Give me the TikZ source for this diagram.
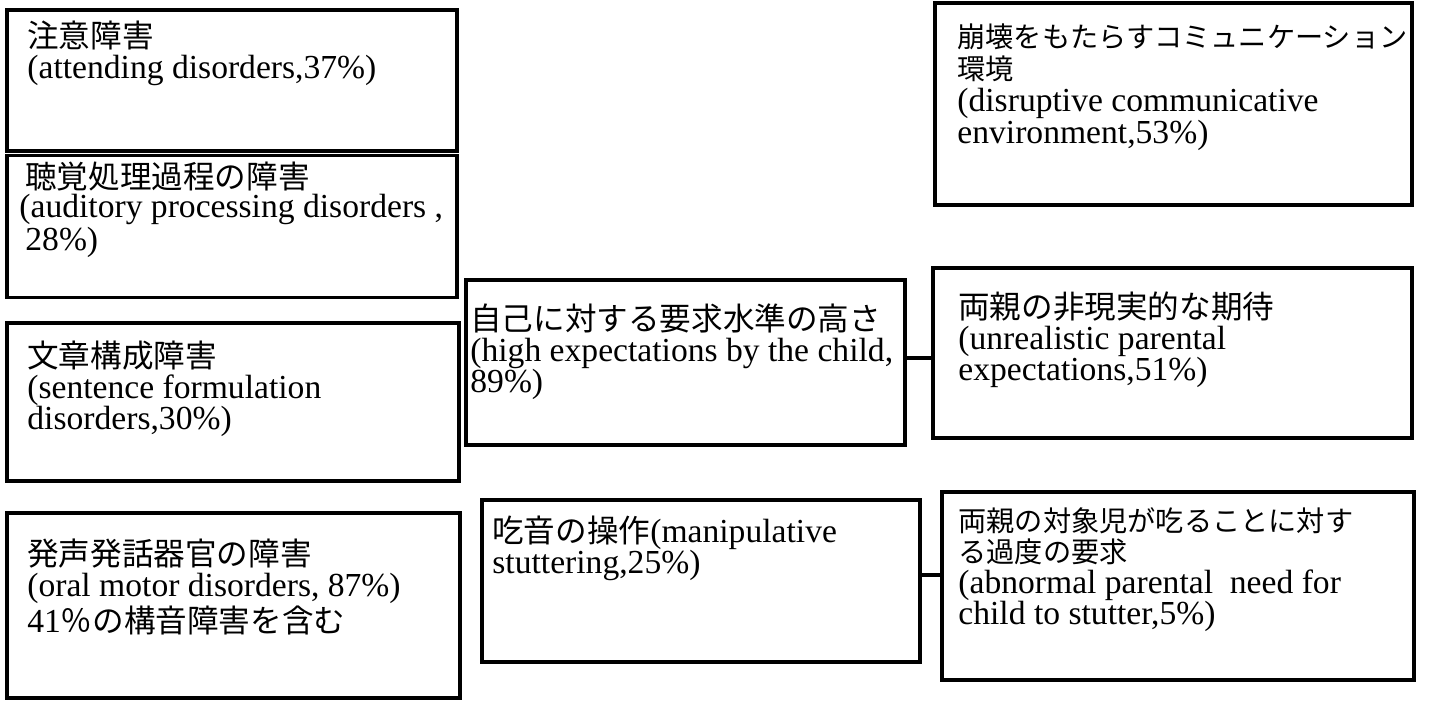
\documentclass[tikz,border=0pt]{standalone}
\usepackage{fontspec}
\setmainfont{Liberation Serif}
\newfontfamily\jp{Noto Sans CJK JP}[Scale=0.94]
\newcommand\jps{\jp\fontsize{15}{15.5}\selectfont}
\newcommand\jpt{\jp\fontsize{15}{16}\selectfont}
\newcommand\boxfont{\fontsize{16.8}{15.5}\selectfont}
\begin{document}
\begin{tikzpicture}[x=0.5pt,y=-0.5pt,
  box/.style={draw, line width=1.6pt, anchor=north west, inner sep=0pt, outer sep=0pt},
  txt/.style={anchor=north west, inner sep=0pt, align=left, font=\boxfont},
  conn/.style={line width=2.4pt}]
\fill[white] (0,0) rectangle (1445,701);
\useasboundingbox (0,0) rectangle (1445,701);
% boxes
\node[box, minimum width=225pt, minimum height=70.5pt] (b1) at (7,10) {};
\node[box, minimum width=225pt, minimum height=71pt] (b2) at (7,155.5) {};
\node[box, minimum width=226pt, minimum height=79pt] (b3) at (7,323) {};
\node[box, minimum width=226.5pt, minimum height=92.5pt] (b4) at (7,513) {};
\node[box, minimum width=219.5pt, minimum height=82.5pt] (b5) at (466,280) {};
\node[box, minimum width=219pt, minimum height=81pt] (b6) at (482,500) {};
\node[box, minimum width=238.5pt, minimum height=101pt] (b7) at (935,3) {};
\node[box, minimum width=239.5pt, minimum height=85pt] (b8) at (933,268) {};
\node[box, minimum width=236pt, minimum height=94pt] (b9) at (942,492) {};
% texts
\node[txt] (t1) at (27,21) {{\jp 注意障害}\\(attending disorders,37\%)};
\node[txt, font={\fontsize{16.8}{14.5}\selectfont}] (t2) at (19,162) {\hspace{3pt}{\jp 聴覚処理過程の障害}\\(auditory processing disorders ,\\\hspace{3pt}28\%)};
\node[txt] (t3) at (27,341) {{\jp 文章構成障害}\\(sentence formulation\\disorders,30\%)};
\node[txt] (t4) at (27,539) {{\jp 発声発話器官の障害}\\(oral motor disorders, 87\%)\\41{\jp ％の構音障害を含む}};
\node[txt] (t5) at (470,303) {{\jp 自己に対する要求水準の高さ}\\(high expectations by the child,\\89\%)};
\node[txt] (t6) at (492,516) {{\jp 吃音の操作}(manipulative\\stuttering,25\%)};
\node[txt, font={\fontsize{16.8}{16}\selectfont}] (t7) at (957,23) {{\jpt 崩壊をもたらすコミュニケーション}\\{\jpt 環境}\\(disruptive communicative\\environment,53\%)};
\node[txt] (t8) at (958,291) {{\jp 両親の非現実的な期待}\\(unrealistic parental\\expectations,51\%)};
\node[txt] (t9) at (958,507) {{\jps 両親の対象児が吃ることに対す}\\{\jps る過度の要求}\\(abnormal parental\ \ need for\\child to stutter,5\%)};
% connectors
\coordinate (c1) at (0,358);
\coordinate (c2) at (0,575);
\draw[conn] (b5.east |- c1) -- (b8.west |- c1);
\draw[conn] (b6.east |- c2) -- (b9.west |- c2);
\end{tikzpicture}
\end{document}
